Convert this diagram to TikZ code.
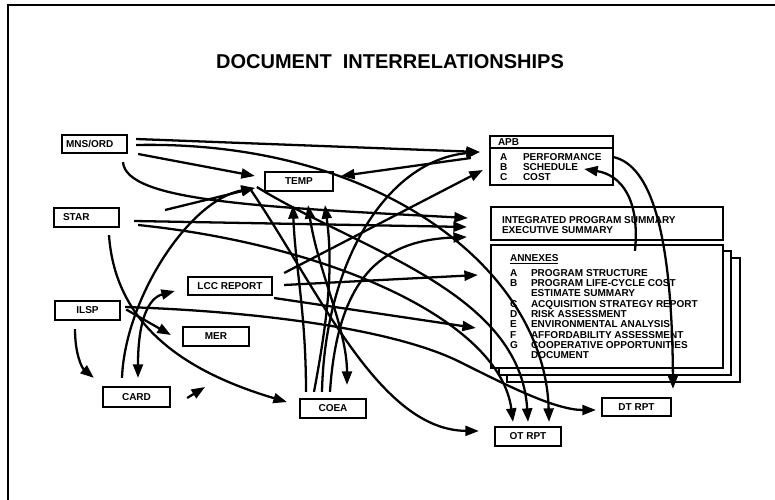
\documentclass[tikz,border=0pt]{standalone}
\usepackage{fontspec}
\setmainfont{Liberation Sans}
\usetikzlibrary{arrows.meta}
\begin{document}
\begin{tikzpicture}
  [x=0.02cm,y=-0.02cm,line width=1.3pt,>={Triangle[length=0.27cm,width=0.2cm]},
   docbox/.style={draw,fill=white,inner sep=0pt,minimum height=0.38cm,font=\bfseries\fontsize{5.7}{5.9}\selectfont},
   panel/.style={draw,fill=white,inner sep=0pt},
   paneltext/.style={inner sep=0pt,anchor=north west,font=\bfseries\fontsize{5.7}{5.85}\selectfont}]
  \useasboundingbox (0,0) rectangle (775,500);
  \draw (8,500) -- (8,5) -- (775,5);
  \node[font=\bfseries\fontsize{11.4}{13}\selectfont] (title) at (390,62) {DOCUMENT\ \ INTERRELATIONSHIPS};
  \node[docbox,inner xsep=0.08cm,text width=1.14cm,align=left,minimum height=0.36cm] (mns) at (94.5,144) {MNS/ORD};
  \node[docbox,inner xsep=0.18cm,text width=0.94cm,align=left] (star) at (86.5,217.5) {STAR};
  \node[docbox,minimum width=1.36cm] (temp) at (299,181.5) {TEMP};
  \node[docbox,minimum width=1.68cm,minimum height=0.36cm] (lcc) at (230,286) {LCC REPORT};
  \node[docbox,minimum width=1.3cm] (ilsp) at (87.5,310.5) {ILSP};
  \node[docbox,minimum width=1.32cm] (mer) at (216,336.5) {MER};
  \node[docbox,minimum width=1.34cm,minimum height=0.4cm] (card) at (136.5,397) {CARD};
  \node[docbox,minimum width=1.32cm] (coea) at (333,408.5) {COEA};
  \node[docbox,minimum width=1.32cm] (otrpt) at (528,436.5) {OT RPT};
  \node[docbox,minimum width=1.38cm,minimum height=0.36cm] (dtrpt) at (636.5,407) {DT RPT};
  \coordinate (gap) at (165,210);
  \coordinate (cardtip) at (205,387);

  \node[panel,minimum width=2.46cm,minimum height=0.98cm] (apb) at (551.5,160.5) {};
  \draw ([shift={(0,13)}]apb.north west) -- ([shift={(0,13)}]apb.north east);
  \node[paneltext] (apbhead) at ([shift={(8,2.5)}]apb.north west) {APB};
  \node[paneltext,font=\bfseries\fontsize{5.7}{5.67}\selectfont] (apbrows) at ([shift={(10,17.4)}]apb.north west)
    {\begin{tabular}{@{}p{0.46cm}@{}l@{}}A&PERFORMANCE\\B&SCHEDULE\\C&COST\end{tabular}};
  \node[panel,minimum width=4.64cm,minimum height=0.66cm] (ips) at (607,223.5) {};
  \node[paneltext,align=left,font=\bfseries\fontsize{5.7}{5.67}\selectfont] (ipstext) at ([shift={(11,9.4)}]ips.north west)
    {INTEGRATED PROGRAM SUMMARY\\EXECUTIVE SUMMARY};
  \node[panel,minimum width=4.66cm,minimum height=2.48cm] (annex3) at (623.5,320) {};
  \node[panel,minimum width=4.64cm,minimum height=2.48cm] (annex2) at (615,313) {};
  \node[panel,minimum width=4.64cm,minimum height=2.46cm] (annex) at (607,306.5) {};
  \node[paneltext] (annextext) at ([shift={(19,9)}]annex.north west)
    {\begin{tabular}{@{}p{0.42cm}@{}l@{}}
     \multicolumn{2}{@{}l@{}}{\underline{ANNEXES}}\\[2.8pt]
     A&PROGRAM STRUCTURE\\
     B&PROGRAM LIFE-CYCLE COST\\
      &ESTIMATE SUMMARY\\
     C&ACQUISITION STRATEGY REPORT\\
     D&RISK ASSESSMENT\\
     E&ENVIRONMENTAL ANALYSIS\\
     F&AFFORDABILITY ASSESSMENT\\
     G&COOPERATIVE OPPORTUNITIES\\
      &DOCUMENT
     \end{tabular}};

  \draw[->] ([shift={(8,-5)}]mns.east) -- ([shift={(-9,-8.5)}]apb.west);
  \draw[->] ([shift={(8,1)}]mns.east) .. controls +(245,-5) and +(-4,-151) .. ([shift={(21,-4)}]otrpt.north);
  \draw[->] ([shift={(10,10)}]mns.east) -- ([shift={(-9,-5.5)}]temp.west);
  \draw[->] ([shift={(28.5,8)}]mns.south) .. controls +(3,39) and +(-209,-11) .. ([shift={(-22,-5.5)}]ips.west);
  \draw[->] ([shift={(14,3.5)}]star.east) -- ([shift={(-23,3.5)}]ips.west);
  \draw[->] ([shift={(18,7.5)}]star.east) .. controls +(193,20) and +(-13,-101) .. ([shift={(-15,-4)}]otrpt.north);
  \draw[->] ([shift={(22.5,7)}]star.south) .. controls +(6,86) and +(-108,-32) .. ([shift={(-12,-6.5)}]coea.west);
  \draw[->] ([shift={(-7,5.5)}]temp.west) .. controls +(102,63) and +(-8,-131) .. ([shift={(0,-4)}]otrpt.north);
  \draw[->] ([shift={(-13,8.5)}]temp.west) .. controls +(68,100) and +(-100,-1) .. ([shift={(-15,-5.5)}]otrpt.west);
  \draw[<->] ([shift={(9,13)}]temp.south) .. controls +(10,66) and +(0,-56) .. ([shift={(14,-13)}]coea.north);
  \draw[->] ([shift={(-27,-6)}]coea.north) .. controls +(0,-80) and +(2,60) .. ([shift={(-6,13)}]temp.south);
  \draw[->] ([shift={(-19,-6)}]coea.north) .. controls +(15,-80) and +(8,60) .. ([shift={(26,13)}]temp.south);
  \draw[->] ([shift={(-11,-6)}]coea.north) .. controls +(3,-133) and +(-91,8) .. ([shift={(-9,-8.5)}]apb.west);
  \draw[->] ([shift={(-3,-6)}]coea.north) .. controls +(8,-123) and +(-78,3) .. ([shift={(-23,13.5)}]ips.west);
  \draw[->] (gap) -- ([shift={(-9,6.5)}]temp.west);
  \draw[->] ([shift={(-14.5,-8)}]card.north) .. controls +(3,-79) and +(-66,12) .. ([shift={(-9,6.5)}]temp.west);
  \draw[<->] ([shift={(1.5,-8)}]card.north) .. controls +(0,-59) and +(-26,7) .. ([shift={(-12,5)}]lcc.west);
  \draw[->] ([shift={(16,1)}]card.east) -- (cardtip);
  \draw[->] ([shift={(5,-1)}]ilsp.east) -- ([shift={(-11,-1.5)}]mer.west);
  \draw[->] ([shift={(-12.5,8)}]ilsp.south) .. controls +(0,25) and +(-12,-10) .. ([shift={(-8,-8)}]card.north west);
  \draw[->] ([shift={(4,-3.5)}]ilsp.east) .. controls +(150,5) and +(-60,-30) .. (460,362)
    .. controls +(50,25) and +(-40,0) .. ([shift={(-5,3)}]dtrpt.west);
  \draw[->] ([shift={(11,-13)}]lcc.east) -- ([shift={(-6,9.5)}]apb.west);
  \draw[->] ([shift={(11,-1)}]lcc.east) -- ([shift={(-12,-31.5)}]annex.west);
  \draw[->] ([shift={(1,12)}]lcc.east) -- ([shift={(-14,21.5)}]annex.west);
  \draw[->] ([shift={(-18,-2.5)}]apb.west) -- ([shift={(7,-5.5)}]temp.east);
  \draw[->] ([shift={(28,7)}]annex.north) .. controls +(5,-52) and +(37,6) .. ([shift={(-30,8.5)}]apb.east);
  \draw[->] ([shift={(-1,-3.5)}]apb.east) .. controls +(37,8) and +(-1,-159) .. ([shift={(36.5,-8)}]dtrpt.north);
\end{tikzpicture}
\end{document}
